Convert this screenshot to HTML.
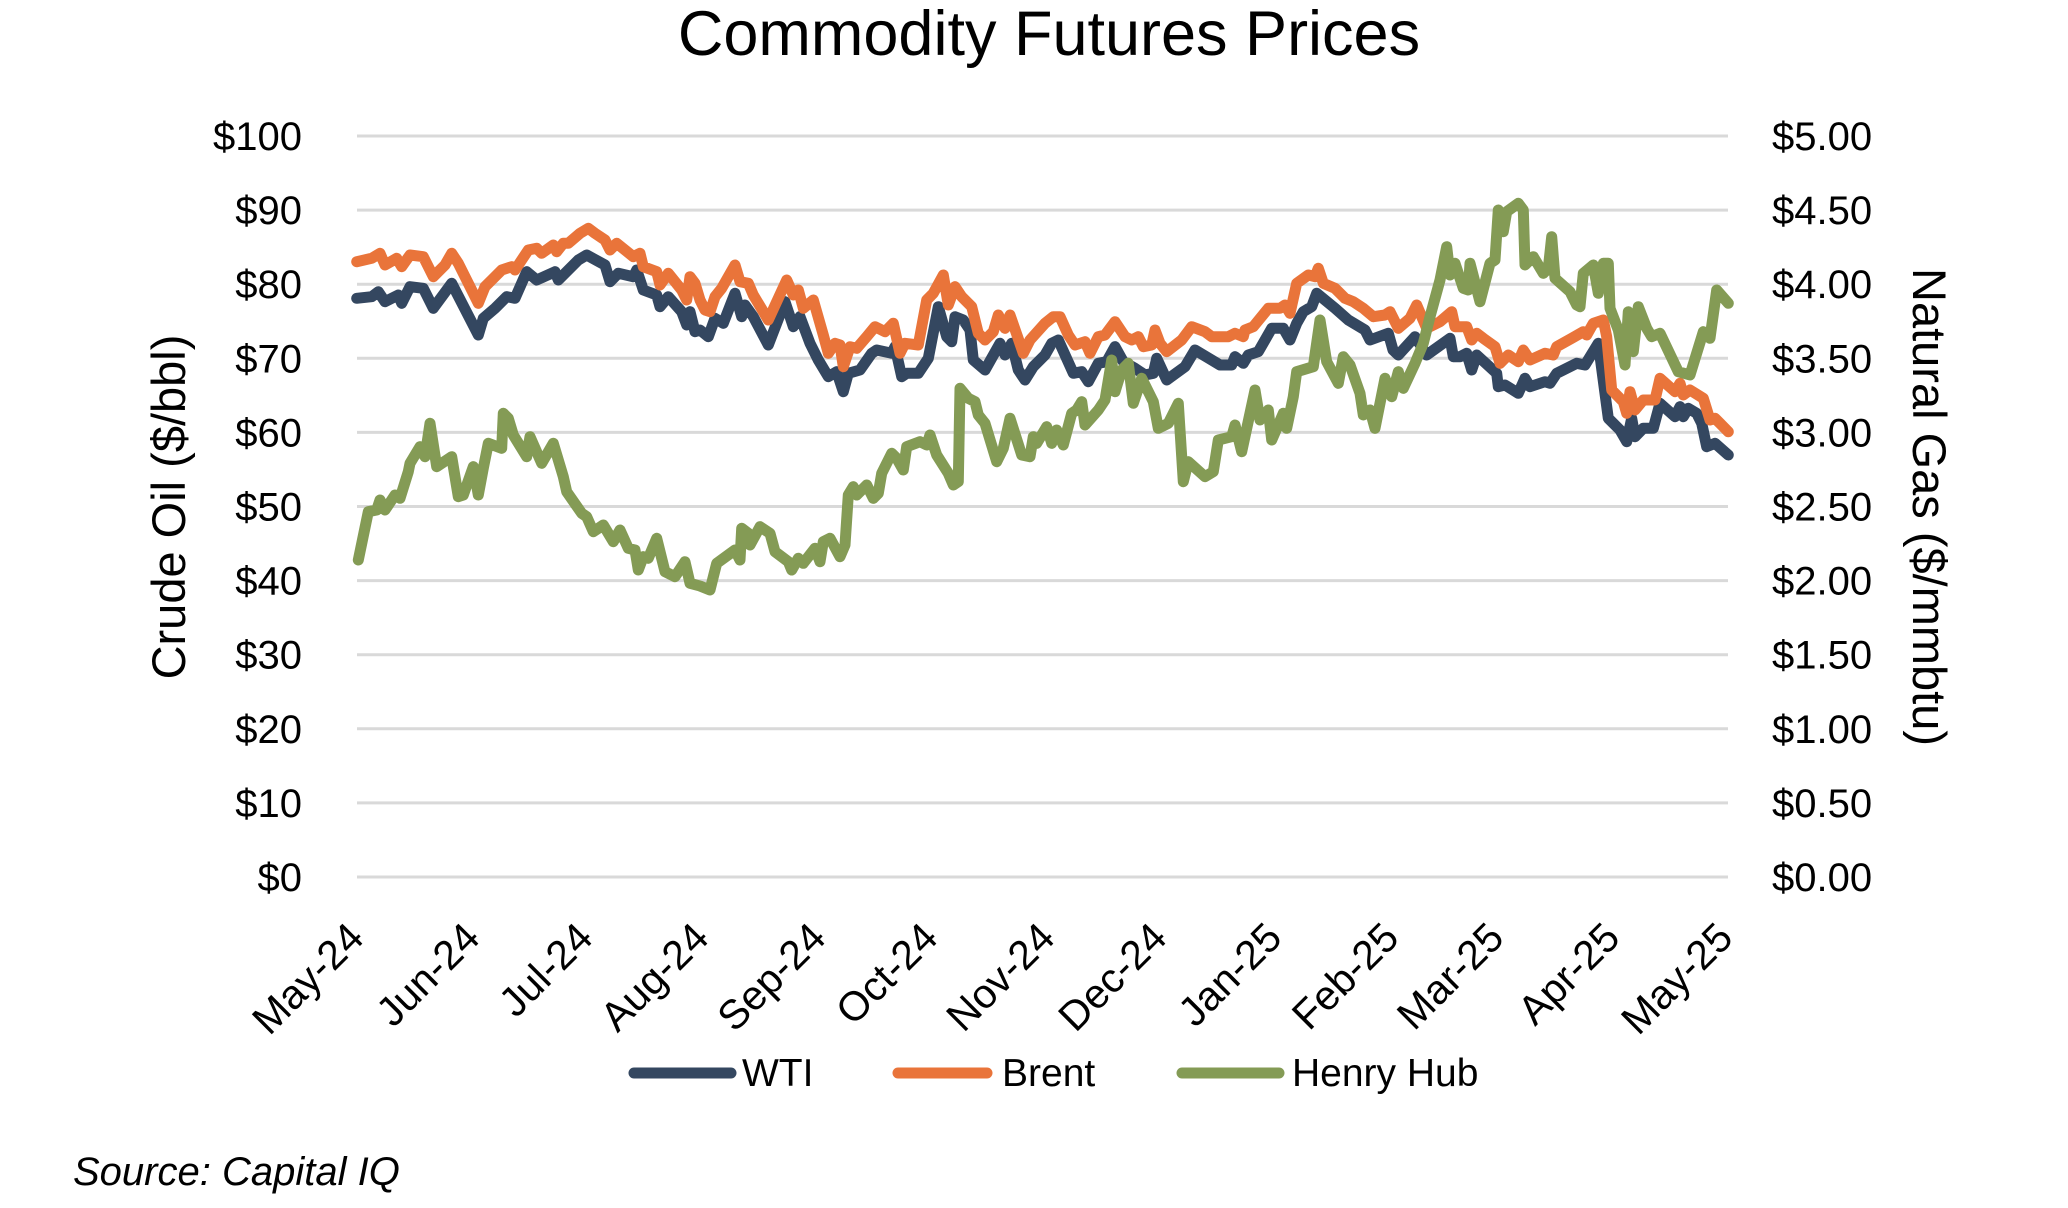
<!DOCTYPE html>
<html>
<head>
<meta charset="utf-8">
<style>
html,body{margin:0;padding:0;background:#fff;}
svg{display:block;}
text{font-family:"Liberation Sans",Arial,sans-serif;fill:#000;}
</style>
</head>
<body>
<svg width="2068" height="1208" viewBox="0 0 2068 1208" xmlns="http://www.w3.org/2000/svg">
<rect width="2068" height="1208" fill="#fff"/>
<text x="1049" y="55" font-size="63" text-anchor="middle">Commodity Futures Prices</text>
<g stroke="#d9d9d9" stroke-width="3">
<line x1="357" y1="136" x2="1728" y2="136"/>
<line x1="357" y1="210.1" x2="1728" y2="210.1"/>
<line x1="357" y1="284.2" x2="1728" y2="284.2"/>
<line x1="357" y1="358.3" x2="1728" y2="358.3"/>
<line x1="357" y1="432.4" x2="1728" y2="432.4"/>
<line x1="357" y1="506.5" x2="1728" y2="506.5"/>
<line x1="357" y1="580.6" x2="1728" y2="580.6"/>
<line x1="357" y1="654.7" x2="1728" y2="654.7"/>
<line x1="357" y1="728.8" x2="1728" y2="728.8"/>
<line x1="357" y1="802.9" x2="1728" y2="802.9"/>
<line x1="357" y1="877" x2="1728" y2="877"/>
</g>
<g font-size="40" text-anchor="end">
<text x="302" y="150">$100</text>
<text x="302" y="224.1">$90</text>
<text x="302" y="298.2">$80</text>
<text x="302" y="372.3">$70</text>
<text x="302" y="446.4">$60</text>
<text x="302" y="520.5">$50</text>
<text x="302" y="594.6">$40</text>
<text x="302" y="668.7">$30</text>
<text x="302" y="742.8">$20</text>
<text x="302" y="816.9">$10</text>
<text x="302" y="891">$0</text>
</g>
<g font-size="40" text-anchor="start">
<text x="1772" y="150">$5.00</text>
<text x="1772" y="224.1">$4.50</text>
<text x="1772" y="298.2">$4.00</text>
<text x="1772" y="372.3">$3.50</text>
<text x="1772" y="446.4">$3.00</text>
<text x="1772" y="520.5">$2.50</text>
<text x="1772" y="594.6">$2.00</text>
<text x="1772" y="668.7">$1.50</text>
<text x="1772" y="742.8">$1.00</text>
<text x="1772" y="816.9">$0.50</text>
<text x="1772" y="891">$0.00</text>
</g>
<text x="185" y="507" font-size="47" text-anchor="middle" transform="rotate(-90 185 507)">Crude Oil ($/bbl)</text>
<text x="1913" y="507" font-size="47" text-anchor="middle" transform="rotate(90 1913 507)">Natural Gas ($/mmbtu)</text>
<g font-size="41" text-anchor="end">
<text x="366" y="940" transform="rotate(-45 366 940)">May-24</text>
<text x="482" y="940" transform="rotate(-45 482 940)">Jun-24</text>
<text x="595" y="940" transform="rotate(-45 595 940)">Jul-24</text>
<text x="711" y="940" transform="rotate(-45 711 940)">Aug-24</text>
<text x="828" y="940" transform="rotate(-45 828 940)">Sep-24</text>
<text x="940" y="940" transform="rotate(-45 940 940)">Oct-24</text>
<text x="1057" y="940" transform="rotate(-45 1057 940)">Nov-24</text>
<text x="1169" y="940" transform="rotate(-45 1169 940)">Dec-24</text>
<text x="1284" y="940" transform="rotate(-45 1284 940)">Jan-25</text>
<text x="1401" y="940" transform="rotate(-45 1401 940)">Feb-25</text>
<text x="1506" y="940" transform="rotate(-45 1506 940)">Mar-25</text>
<text x="1622" y="940" transform="rotate(-45 1622 940)">Apr-25</text>
<text x="1735" y="940" transform="rotate(-45 1735 940)">May-25</text>
</g>
<g fill="none" stroke-width="11" stroke-linejoin="round" stroke-linecap="round">
<polyline stroke="#344760" points="356.7,298.3 371.7,296.7 378.3,291.7 385,301.7 398.3,295 401.7,303.3 410,286.7 423.3,288.3 433.3,308.3 451.7,283.3 478.3,335 483.3,318.3 495,308.3 506.7,296.7 515,298.3 526.7,271.7 536.7,280 555,271.7 558.3,280 568.3,270 578.3,260 586.7,255 605,265 610,281.7 618.3,273.3 633.3,276.7 636.7,270 643.3,290 656.7,295 660,306.7 668.3,296.7 681.7,311.7 686.7,325 690,311.7 695,331.7 700,330 708.3,336.7 715,318.3 723.3,323.3 735,293.3 741.7,316.7 745,305 753.3,316.7 768.3,345 785,301.7 793.3,326.7 800,316.7 810,343.3 818.3,360 828.3,376.7 836.7,371.7 843.3,391.7 848.3,373.3 860,370 871.7,353.3 876.7,350 891.7,353.3 895,346.7 901.7,376.7 906.7,373.3 918.3,373.3 928.3,358.3 938.3,306.7 946.7,336.7 951.7,341.7 955,316.7 963.3,320 970,330 973.3,360 985,370 1000,343.3 1005,355 1011.7,343.3 1018.3,370 1025,380 1033.3,366.7 1045,355 1051.7,343.3 1058.3,340 1073.3,373.3 1081.7,371.7 1088.3,381.7 1098.3,363.3 1106.7,361.7 1115,346.7 1123.3,361.7 1135,368.3 1145,375 1153.3,373.3 1156.7,358.3 1166.7,380 1185,366.7 1195,350 1211.7,360 1220,365 1231.7,365 1235,356.7 1243.3,363.3 1248.3,355 1258.3,351.7 1271.7,328.3 1283.3,328.3 1290,340 1296.7,323.3 1303.3,311.7 1311.7,306.7 1316.7,293.3 1335,308.3 1348.3,320 1365,330 1370,340 1388.3,333.3 1393,350 1398.3,355 1415,336.7 1426.7,355 1450,338.3 1453.3,356.7 1460,356.7 1466.7,353.3 1471.7,370 1476.7,355 1496.7,373.3 1498.3,386.7 1505,385 1518.3,393.3 1525,378.3 1530,386.7 1545,381.7 1550,383.3 1556.7,373.3 1576.7,363.3 1585,365 1598.3,343.3 1608.3,418.3 1620,430 1626.7,441.7 1631.7,418.3 1635,436.7 1643.3,428.3 1653.3,428.3 1660,403.3 1675,416.7 1680,406.7 1683.3,416.7 1688.3,408.3 1696.7,413.3 1701.7,423.3 1706.7,446.7 1715,443.3 1728.3,455"/>
<polyline stroke="#e9743a" points="356.7,261.7 371.7,258.3 380,253.3 385,265 396.7,258.3 401.7,266.7 410,255 423.3,256.7 433.3,276.7 445,265 451.7,253.3 458.3,263.3 478.3,303.3 485,286.7 491.7,280 501.7,270 511.7,266.7 515,270 528.3,250 536.7,248.3 541.7,253.3 553.3,245 556.7,251.7 563.3,243.3 568.3,243.3 580,233.3 588.3,228.3 595,233.3 605,240 610,250 616.7,243.3 633.3,256.7 640,253.3 643.3,266.7 656.7,271.7 660,285 668.3,273.3 681.7,290 686.7,300 690,276.7 695,283.3 700,300 705,310 710,311.7 715,296.7 721.7,288.3 735,265 740,281.7 748.3,283.3 753.3,295 768.3,320 786.7,280 793.3,295 798.3,290 803.3,308.3 813.3,300 823.3,335 828.3,353.3 835,343.3 840,345 843.3,366.7 850,346.7 856.7,348.3 866.7,336.7 875,326.7 885,331.7 893.3,323.3 900,353.3 905,343.3 918.3,345 926.7,300 933.3,293.3 943.3,275 948.3,305 955,286.7 961.7,296.7 971.7,306.7 978.3,333.3 985,340 993.3,331.7 998.3,315 1005,328.3 1010,315 1023.3,353.3 1030,340 1045,323.3 1053.3,316.7 1060,316.7 1068.3,335 1075,345 1085,341.7 1090,353.3 1098.3,336.7 1105,335 1115,321.7 1125,336.7 1131.7,340 1138.3,336.7 1143.3,346.7 1151.7,345 1155,330 1160,343.3 1166.7,351.7 1181.7,340 1191.7,326.7 1205,331.7 1211.7,336.7 1228.3,336.7 1235,333.3 1243.3,336.7 1245,330 1253.3,326.7 1268.3,308.3 1280,308.3 1285,305 1290,313.3 1296.7,283.3 1308.3,275 1315,276.7 1318.3,268.3 1323.3,283.3 1335,288.3 1345,298.3 1353.3,301.7 1363.3,308.3 1373.3,316.7 1385,315 1390,311.7 1398.3,328.3 1410,318.3 1416.7,305 1421.7,316.7 1426.7,328.3 1440,321.7 1451.7,311.7 1455,326.7 1466.7,326.7 1471.7,340 1476.7,333.3 1483.3,338.3 1495,346.7 1500,363.3 1508.3,355 1518.3,361.7 1523.3,350 1530,360 1545,353.3 1553.3,355 1556.7,346.7 1571.7,338.3 1583.3,331.7 1586.7,335 1593.3,323.3 1603.3,320 1606.7,336.7 1611.7,390 1623.3,401.7 1626.7,413.3 1630,391.7 1635,410 1643.3,400 1655,400 1660,378.3 1675,391.7 1680,383.3 1683.3,395 1690,390 1703.3,398.3 1710,420 1715,418.3 1720,423.3 1728.3,431.7"/>
<polyline stroke="#849b55" points="358.3,560 368.3,511.7 376.7,510 380,500 385,510 395,495 400,498.3 408.3,471.7 410,463.3 420,446.7 425,456.7 430,423.3 436.7,466.7 451.7,456.7 458.3,496.7 463.3,495 473.3,466.7 478.3,495 483.3,468.3 488.3,443.3 501.7,448.3 503.3,413.3 508.3,418.3 513.3,435 526.7,456.7 530,436.7 541.7,463.3 553.3,443.3 563.3,476.7 566.7,491.7 581.7,513.3 586.7,516.7 593.3,531.7 603.3,525 613.3,541.7 620,530 628.3,548.3 635,550 638.3,570 643.3,556.7 648.3,558.3 656.7,538.3 665,571.7 675,576.7 685,561.7 690,583.3 700,586 710,590 716.7,563.3 735,550 740,560 741.7,528.3 748.3,533.3 750,545 760,526.7 770,533.3 775,551.7 788.3,561.7 791.7,570 798.3,558.3 803.3,563.3 815,548.3 820,561.7 823.3,541.7 830,538.3 840,556.7 845,545 848.3,495 853.3,486.7 856.7,495 866.7,485 873.3,498.3 878.3,493.3 881.7,473.3 891.7,453.3 896.7,458.3 903.3,470 906.7,446.7 920,441.7 926.7,445 930,435 936.7,455 948.3,473.3 953.3,485 958.3,481.7 960,388.3 968.3,398.3 975,401.7 978.3,415 985,423.3 996.7,461.7 1003.3,448.3 1010,418.3 1021.7,455 1030,456.7 1033.3,436.7 1036.7,443.3 1046.7,426.7 1051.7,443.3 1056.7,430 1063.3,445 1071.7,413.3 1076.7,410 1081.7,401.7 1085,425 1098.3,410 1105,400 1111.7,360 1115,391.7 1121.7,370 1128.3,363.3 1133.3,403.3 1141.7,378.3 1153.3,401.7 1158.3,428.3 1168.3,423.3 1178.3,403.3 1183.3,481.7 1188.3,461.7 1205,476.7 1213.3,471.7 1218.3,440 1231.7,436.7 1235,425 1241.7,451.7 1255,390 1260,420 1268.3,410 1271.7,440 1283.3,413.3 1286.7,428.3 1293.3,396.7 1296.7,371.7 1313.3,366.7 1320,320 1326.7,361.7 1338.3,383.3 1343.3,356.7 1350,365 1360,393.3 1363.3,415 1370,410 1375,428.3 1385,378.3 1391.7,396.7 1398.3,371.7 1403.3,388.3 1415,363.3 1423.3,343.3 1430,316.7 1440,280 1446.7,246.7 1450,275 1455,263.3 1463.3,288.3 1468.3,290 1470,263.3 1480,301.7 1490,263.3 1495,260 1498.3,210 1503.3,231.7 1506.7,211.7 1518.3,203.3 1523.3,210 1525,265 1533.3,256.7 1543.3,273.3 1548.3,268.3 1551.7,236.7 1555,278.3 1570,291.7 1576.7,305 1580,306.7 1583.3,273.3 1593.3,265 1598.3,293.3 1603.3,263.3 1608.3,263.3 1610,308.3 1618.3,330 1625,365 1628.3,311.7 1633.3,351.7 1638.3,306.7 1646.7,328.3 1651.7,336.7 1660,333.3 1678.3,371.7 1690,375 1703.3,331.7 1710,338.3 1716.7,290 1728.3,303.3"/>
</g>
<g stroke-width="11" stroke-linecap="round">
<line x1="634" y1="1073" x2="731" y2="1073" stroke="#344760"/>
<line x1="898" y1="1073" x2="987" y2="1073" stroke="#e9743a"/>
<line x1="1182" y1="1073" x2="1279" y2="1073" stroke="#849b55"/>
</g>
<g font-size="39">
<text x="742" y="1086">WTI</text>
<text x="1002" y="1086">Brent</text>
<text x="1292" y="1086">Henry Hub</text>
</g>
<text x="73" y="1185" font-size="40" font-style="italic">Source: Capital IQ</text>
</svg>
</body>
</html>
